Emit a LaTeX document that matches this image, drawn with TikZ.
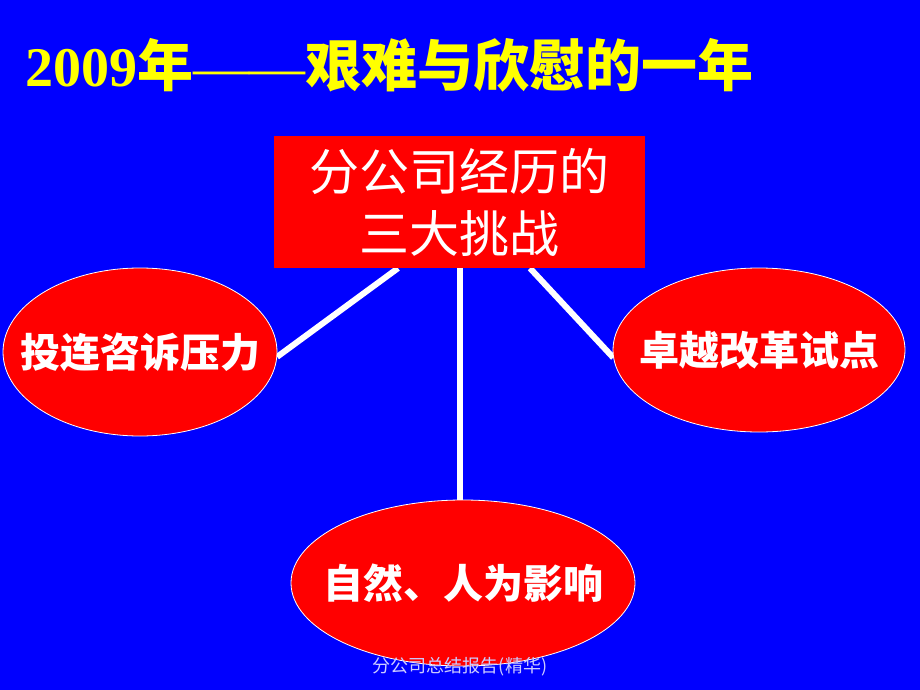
\documentclass[tikz,border=0pt]{standalone}
\usepackage{fontspec}
\setmainfont{Liberation Serif}
\newfontfamily\cjk{Noto Sans CJK SC}
\usetikzlibrary{shapes.geometric,backgrounds}
\definecolor{slideblue}{RGB}{0,0,255}
\definecolor{slidered}{RGB}{255,0,0}
\definecolor{slideyellow}{RGB}{255,255,0}
\newcommand{\ovaltext}[1]{\makebox[0pt]{#1}}
\begin{document}
\begin{tikzpicture}[x=1pt,y=-1pt,
    redbox/.style={draw=none,fill=slidered,minimum width=371pt,minimum height=132pt,
      text=white,align=center,font=\cjk\fontsize{50}{62}\selectfont},
    redoval/.style={ellipse,draw=white,line width=0.8pt,fill=slidered,inner sep=0pt,
      text=white,font=\cjk\bfseries\fontsize{40}{48}\selectfont},
    spoke/.style={white,line width=6pt}]
      \useasboundingbox (0,0) rectangle (920,690);

      \node [anchor=base west,text=slideyellow,inner sep=0pt] (title) at (25,87)
        {\fontsize{56}{60}\selectfont\bfseries 2009\cjk 年\normalfont\fontsize{56}{60}\selectfont ——\cjk\bfseries 艰难与欣慰的一年};

      \node [redbox] (top) at (459.5,202) {分公司经历的\\三大挑战};

      \node [redoval,minimum width=274pt,minimum height=168pt] (left)  at (140,352) {\ovaltext{投连咨诉压力}};
      \node [redoval,minimum width=292pt,minimum height=164pt] (right) at (759,350) {\ovaltext{卓越改革试点}};
      \node [redoval,minimum width=344pt,minimum height=166pt] (down)  at (463,583) {\ovaltext{自然、人为影响}};

      \begin{pgfonlayer}{background}
        \fill [slideblue] (0,0) rectangle (920,690);
        \draw [spoke] ([xshift=-61.5pt]top.south) -- (left.-2.5);
        \draw [spoke] (top.south) -- (top.south |- down.north);
        \draw [spoke] ([xshift=70.5pt]top.south) -- (right.183);
      \end{pgfonlayer}

      \node [text=white!80!slideblue,font=\cjk\fontsize{18}{20}\selectfont] (foot) at (460,667) {分公司总结报告(精华)};
    \end{tikzpicture}
\end{document}
